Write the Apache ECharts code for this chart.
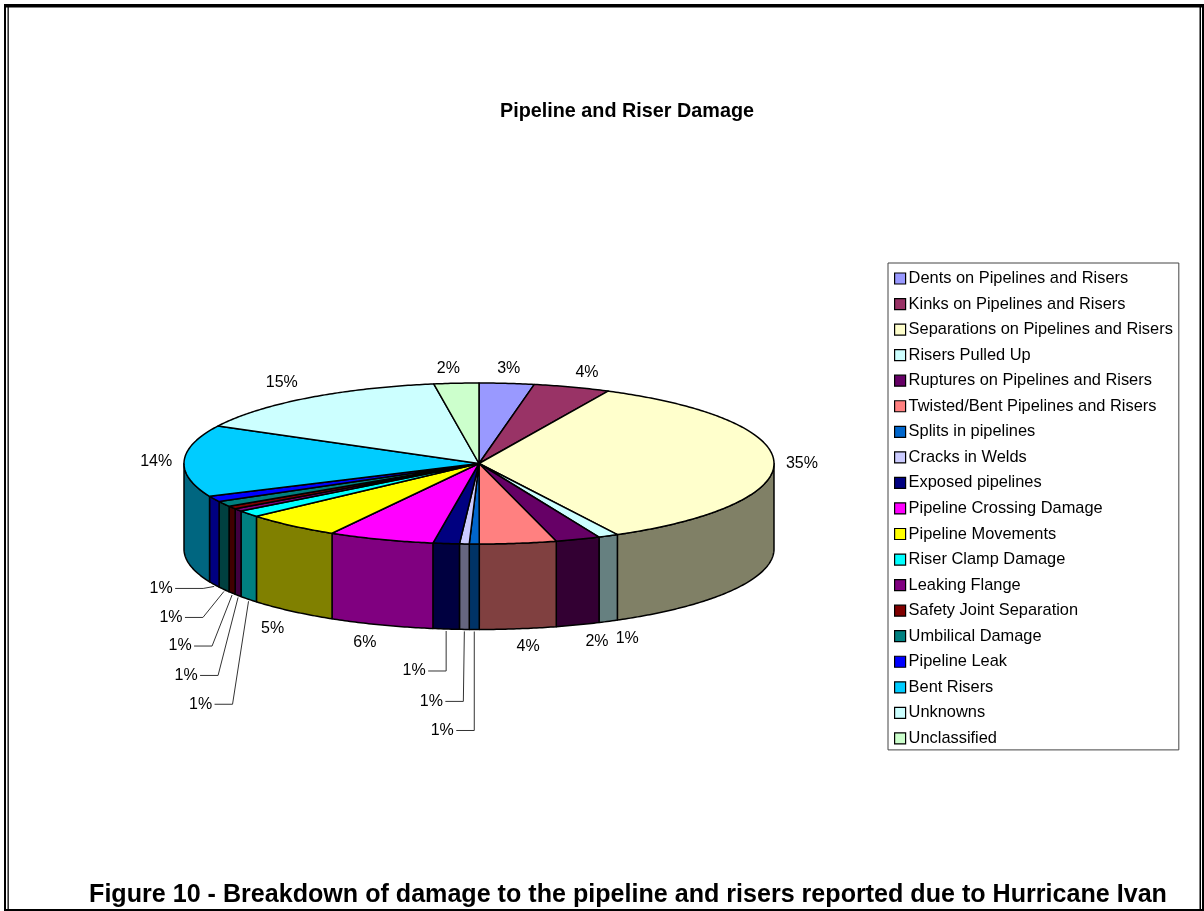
<!DOCTYPE html>
<html><head><meta charset="utf-8">
<style>html,body{margin:0;padding:0;background:#fff}#c{width:1204px;height:911px}</style>
<script src="https://cdn.jsdelivr.net/npm/echarts@6/dist/echarts.min.js"></script>
</head><body><div id="c"></div>
<script>
const categories = ['Dents on Pipelines and Risers','Kinks on Pipelines and Risers','Separations on Pipelines and Risers','Risers Pulled Up','Ruptures on Pipelines and Risers','Twisted/Bent Pipelines and Risers','Splits in pipelines','Cracks in Welds','Exposed pipelines','Pipeline Crossing Damage','Pipeline Movements','Riser Clamp Damage','Leaking Flange','Safety Joint Separation','Umbilical Damage','Pipeline Leak','Bent Risers','Unknowns','Unclassified'];
const values = [3.0,4.2,35.0,1.1,2.45,4.2,0.54,0.53,1.44,5.8,5.3,1.33,0.55,0.6,1.07,1.17,14.4,14.8,2.45];
const colors = ['#9999FF','#993366','#FFFFCC','#CCFFFF','#660066','#FF8080','#0066CC','#CCCCFF','#000080','#FF00FF','#FFFF00','#00FFFF','#800080','#800000','#008080','#0000FF','#00CCFF','#CCFFFF','#CCFFCC'];
// label placement relative to each slice's rim anchor
const labelOffsets = [[2,-15],[15,-15],[28,1.5],[19,17],[19,16.5],[10,17.5],[-32,101],[-33,72],[-32,42],[-16,17.5],[-19,17.5],[-48,105],[-52,80],[-52,53],[-53,28],[-53,4],[-28,1],[-26,-15],[-8,-15]];
const leaderRuns = [0,0,0,0,0,0,18,18,18,0,0,18,18,18,18,28,0,0,0];

const PIE = {cx:479, cy:463.5, rx:295, ry:80.5, depth:85.5};
const total = values.reduce((a,b)=>a+b,0);
const starts = []; values.reduce((a,v,i)=>(starts[i]=a,a+v),0);
const ang = v => v/total*2*Math.PI;
const pt = (t,dy=0) => [PIE.cx+PIE.rx*Math.sin(t), PIE.cy-PIE.ry*Math.cos(t)+dy];
function arc(a,b){const n=Math.max(2,Math.ceil((b-a)/0.01));const r=[];for(let i=0;i<=n;i++)r.push(pt(a+(b-a)*i/n));return r;}
function darken(hex){const n=parseInt(hex.slice(1),16);const h=c=>Math.round(c/2).toString(16).padStart(2,'0');return '#'+h(n>>16&255)+h(n>>8&255)+h(n&255);}
const EDGE={stroke:'#000',lineWidth:1.5,lineJoin:'round'};

function renderSlice(i){return function(params,api){
  const a=ang(starts[i]), b=a+ang(api.value(0));
  const children=[];
  const lo=Math.max(a,Math.PI/2), hi=Math.min(b,3*Math.PI/2);
  if(hi>lo){
    const top=arc(lo,hi);
    const bottom=top.map(p=>[p[0],p[1]+PIE.depth]).reverse();
    children.push({type:'polygon',z2:1,shape:{points:top.concat(bottom)},style:Object.assign({fill:darken(colors[i])},EDGE)});
  }
  children.push({type:'polygon',z2:2,shape:{points:[[PIE.cx,PIE.cy]].concat(arc(a,b))},style:Object.assign({fill:colors[i]},EDGE)});
  const mid=(a+b)/2, front=Math.cos(mid)<0;
  const anchor=pt(mid,front?PIE.depth:0);
  const lx=anchor[0]+labelOffsets[i][0], ly=anchor[1]+labelOffsets[i][1];
  if(leaderRuns[i]){
    const sx=lx+14, ex=sx+leaderRuns[i];
    children.push({type:'polyline',z2:3,shape:{points:[[sx,ly],[ex,ly],[anchor[0],anchor[1]+2]]},style:{stroke:'#333',lineWidth:1,fill:'none'}});
  }
  children.push({type:'text',z2:4,style:{x:lx,y:ly,text:Math.round(api.value(0)/total*100)+'%',fill:'#000',font:'16px "Liberation Sans"',align:'center',verticalAlign:'middle'}});
  return {type:'group',children};
};}

const bar=(x,y,width,height)=>({type:'rect',silent:true,z:-1,shape:{x,y,width,height},style:{fill:'#000'}});
const chart=echarts.init(document.getElementById('c'),null,{renderer:'canvas'});
chart.setOption({
  animation:false,
  backgroundColor:'#fff',
  title:[
    {text:'Pipeline and Riser Damage',left:627,top:101.5,textAlign:'center',textStyle:{fontFamily:'Liberation Sans',fontSize:19.8,fontWeight:'bold',color:'#000'},padding:0},
    {text:'Figure 10 - Breakdown of damage to the pipeline and risers reported due to Hurricane Ivan',left:628,top:883,textAlign:'center',textStyle:{fontFamily:'Liberation Sans',fontSize:25.1,fontWeight:'bold',color:'#000'},padding:0}
  ],
  legend:{
    orient:'vertical',left:888,top:263,padding:[6.5,6,2.5,6],
    data:categories,selectedMode:false,
    icon:'rect',itemWidth:11,itemHeight:11,itemGap:7.55,
    itemStyle:{borderColor:'#000',borderWidth:1.2},
    backgroundColor:'#fff',borderColor:'#444',borderWidth:1,
    textStyle:{fontFamily:'Liberation Sans',fontSize:16.4,color:'#000',padding:[0,0,0,-2],lineHeight:18}
  },
  graphic:[
    bar(4,4,1200,3.5), bar(4,909,1200,2),
    bar(4,4,2,907), bar(7.5,4,1.3,907),
    bar(1199.5,4,1.5,907), bar(1202,4,2,907)
  ],
  series:categories.map((name,i)=>({
    type:'custom',name,coordinateSystem:'none',silent:true,clip:false,
    itemStyle:{color:colors[i]},
    data:[values[i]],
    renderItem:renderSlice(i)
  }))
});
</script></body></html>
